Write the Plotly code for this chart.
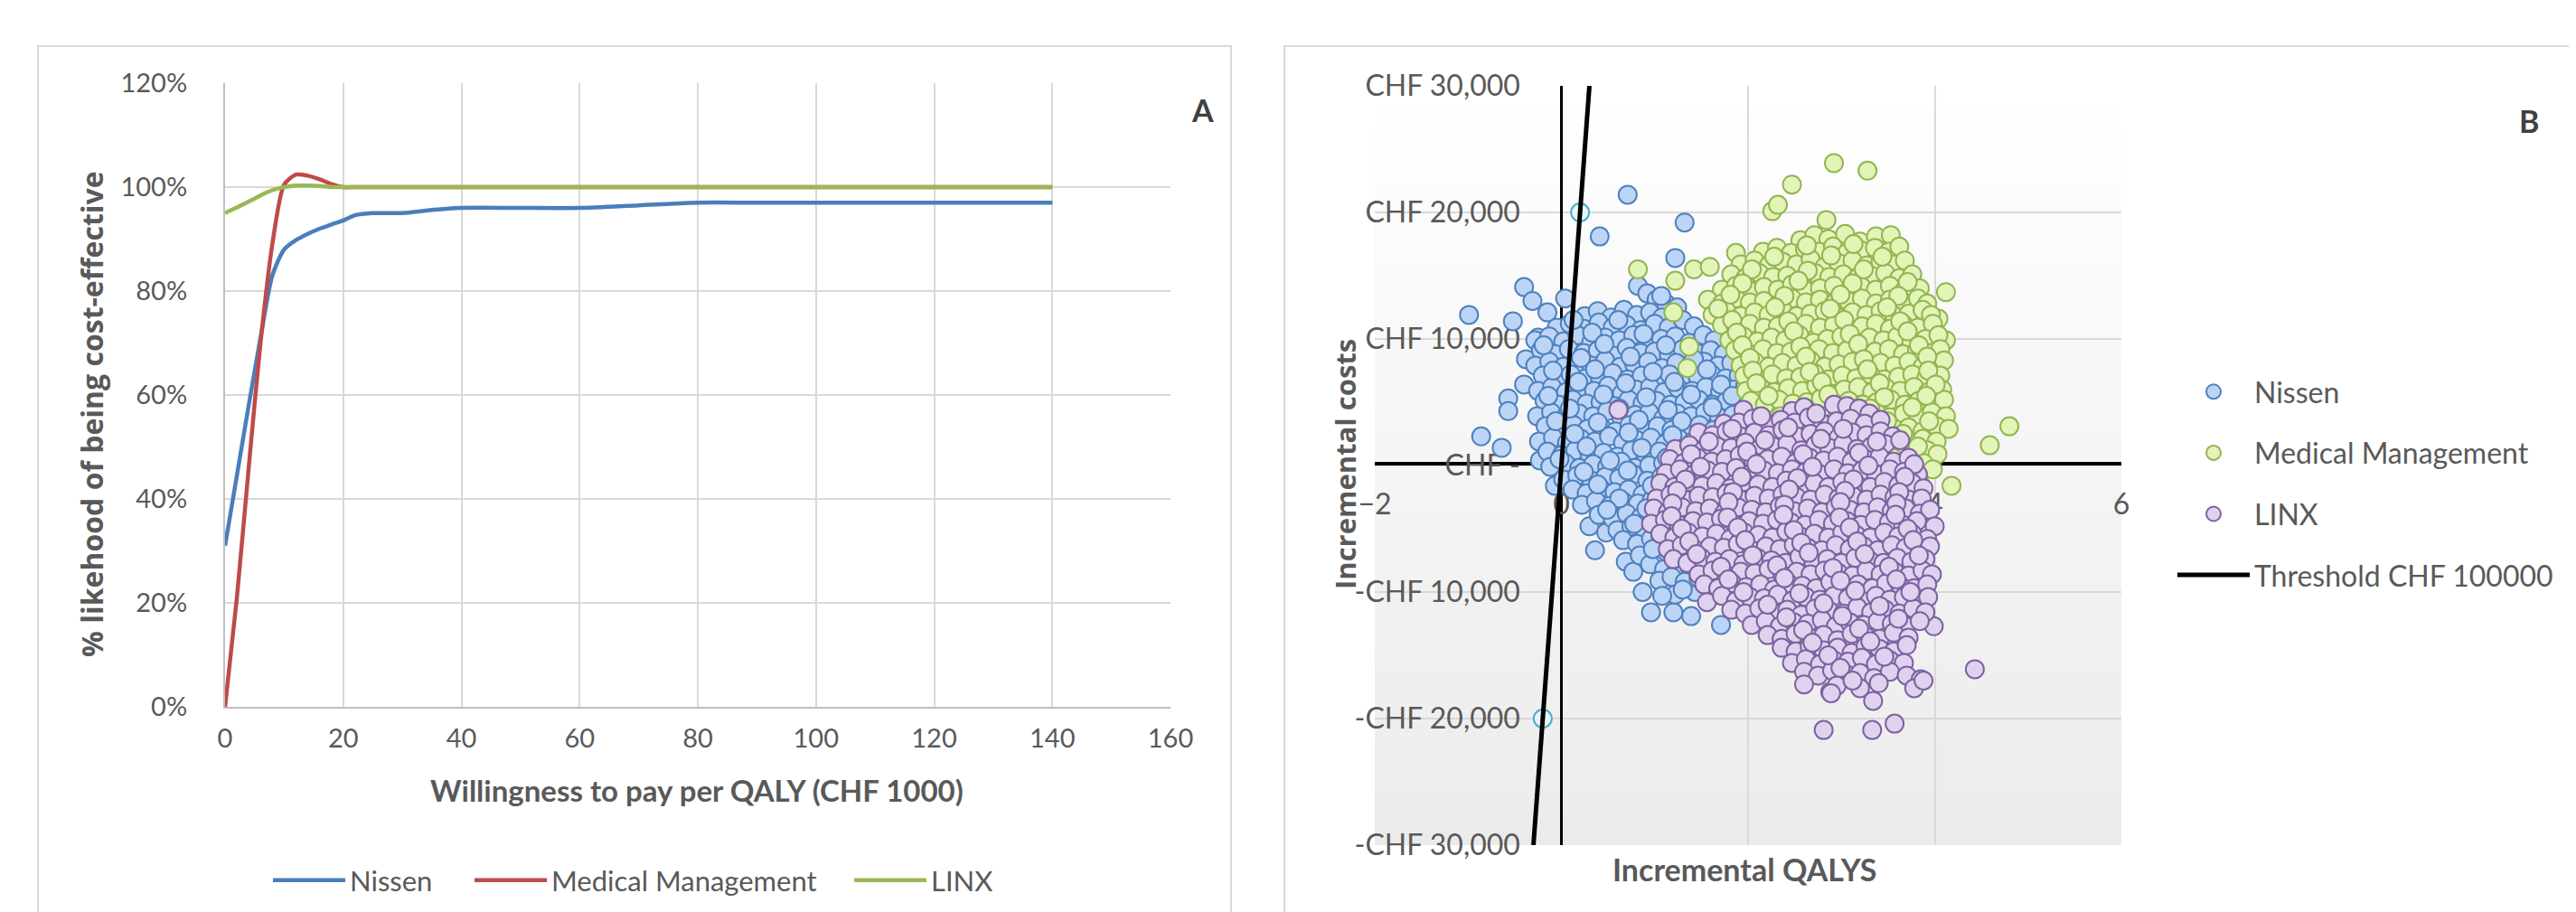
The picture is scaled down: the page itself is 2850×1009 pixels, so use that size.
import plotly.graph_objects as go

W, H = 2850, 1009

# ---------------- Panel A data (CEAC) ----------------
wtp = [0, 2, 4, 6, 8, 10, 12, 14, 16, 18, 20, 22, 25, 30, 35, 40, 50, 60, 70, 80, 90, 100, 110, 120, 130, 140]
nissen_ceac = [31, 44.5, 58, 71, 83, 88, 89.8, 91, 92, 92.8, 93.6, 94.6, 95, 95, 95.6, 96, 96, 96, 96.5, 97, 97, 97, 97, 97, 97, 97]
mm_ceac = [0, 21, 46, 70, 89, 100.5, 102.4, 102.2, 101.5, 100.6, 100, 100, 100, 100, 100, 100, 100, 100, 100, 100, 100, 100, 100, 100, 100, 100]
linx_ceac = [95, 96.1, 97.2, 98.4, 99.4, 100, 100.3, 100.3, 100.2, 100, 100, 100, 100, 100, 100, 100, 100, 100, 100, 100, 100, 100, 100, 100, 100, 100]
a_xticks = [0, 20, 40, 60, 80, 100, 120, 140, 160]
a_yticks = [0, 20, 40, 60, 80, 100, 120]
a_yticklabels = ["0%", "20%", "40%", "60%", "80%", "100%", "120%"]

# ---------------- Panel B data (cost-effectiveness plane) ----------------
nissen_pts = [
    (0.71, 21400), (0.41, 18100), (1.32, 19200), (1.22, 16400), (0.82, 14200),
    (-0.40, 14100), (-0.31, 13000), (-0.15, 12100), (0.04, 13200), (-0.99, 11900), (-0.52, 11400),
    (-0.25, 10100), (-0.38, 8400), (-0.18, 8300), (-0.40, 6400), (-0.57, 5300), (-0.57, 4300),
    (-0.86, 2300), (-0.64, 1400), (-0.21, 3700), (-0.11, 3000), (-0.23, 400), (-0.07, -1600),
    (0.30, -4800), (0.48, -5300), (0.36, -6700), (0.69, -7600), (0.77, -8400), (0.87, -10000),
    (0.96, -11600), (1.20, -11600), (1.39, -11900), (1.22, -10200), (1.43, -10000), (1.71, -12600),
    (0.92, 13600), (1.02, 13100), (1.12, 12800), (1.24, 12500), (1.07, 13400),
    (0.25, 11800), (0.39, 12200), (0.53, 11700), (0.67, 12300), (0.81, 11900), (0.95, 12100), (1.08, 11700),
    (-0.05, 10900), (0.09, 11200), (0.24, 10800), (0.40, 11300), (0.55, 10900), (0.70, 11100), (0.85, 10700),
    (1.00, 11200), (1.15, 10900), (1.30, 11500), (1.42, 11000),
    (-0.28, 9900), (-0.13, 10200), (0.02, 9800), (0.17, 10300), (0.32, 9700), (0.47, 10100), (0.62, 9900),
    (0.77, 10300), (0.92, 9800), (1.07, 10000), (1.22, 10200), (1.37, 9700), (1.52, 10300), (1.64, 9900),
    (-0.22, 9100), (-0.07, 8800), (0.08, 9200), (0.24, 8900), (0.39, 9100), (0.55, 8700), (0.70, 9300),
    (0.85, 8900), (1.00, 9000), (1.15, 8800), (1.30, 9200), (1.45, 8900), (1.60, 9100), (1.74, 8800),
    (-0.28, 7900), (-0.13, 8200), (0.02, 7800), (0.17, 8100), (0.32, 7900), (0.47, 8300), (0.63, 7800),
    (0.78, 8000), (0.93, 8200), (1.08, 7700), (1.23, 8100), (1.38, 7900), (1.53, 8200), (1.68, 7900), (1.82, 8100),
    (-0.20, 7100), (-0.05, 6800), (0.10, 7200), (0.26, 6900), (0.41, 7000), (0.55, 7300), (0.71, 6800),
    (0.86, 7100), (1.01, 6900), (1.16, 7200), (1.31, 6800), (1.46, 7000), (1.61, 7200), (1.76, 6900), (1.90, 7100),
    (-0.25, 5900), (-0.10, 6200), (0.05, 5800), (0.20, 6100), (0.35, 5900), (0.50, 6300), (0.65, 5700), (0.80, 6000),
    (0.95, 6200), (1.10, 5800), (1.25, 6100), (1.40, 5900), (1.55, 6200), (1.70, 5800), (1.85, 6000), (1.97, 6300),
    (-0.18, 5100), (-0.03, 4800), (0.12, 5200), (0.27, 4900), (0.42, 5000), (0.57, 4700), (0.72, 5200), (0.87, 4900),
    (1.02, 5100), (1.17, 4800), (1.32, 5000), (1.47, 5200), (1.62, 4800), (1.77, 5100), (1.92, 4900),
    (-0.26, 3900), (-0.11, 4200), (0.04, 3800), (0.19, 4100), (0.34, 3900), (0.49, 4300), (0.64, 3800), (0.79, 4000),
    (0.94, 4200), (1.09, 3700), (1.24, 4100), (1.39, 3900), (1.54, 4200), (1.69, 3800), (1.84, 4000),
    (-0.17, 3100), (-0.02, 2800), (0.13, 3200), (0.28, 2900), (0.43, 3000), (0.58, 2700), (0.73, 3200),
    (0.88, 2900), (1.03, 3100), (1.18, 2800), (1.33, 3000), (1.48, 3200), (1.63, 2800), (1.78, 3000),
    (-0.24, 1900), (-0.09, 2200), (0.06, 1800), (0.21, 2100), (0.36, 1900), (0.51, 2300), (0.66, 1800),
    (0.81, 2000), (0.96, 2200), (1.11, 1700), (1.26, 2100), (1.41, 1900), (1.56, 2200), (1.70, 1900),
    (-0.15, 1100), (0.00, 800), (0.15, 1200), (0.30, 900), (0.45, 1000), (0.60, 700), (0.75, 1200),
    (0.90, 900), (1.05, 1100), (1.20, 800), (1.35, 1000), (1.50, 1200),
    (-0.12, -100), (0.04, 200), (0.19, -200), (0.34, 100), (0.49, -100), (0.64, 300), (0.79, -200),
    (0.94, 0), (1.09, 200), (1.24, -300), (1.40, 100),
    (0.02, -1100), (0.17, -800), (0.32, -1200), (0.47, -900), (0.62, -1000), (0.77, -700), (0.92, -1200),
    (1.07, -900), (1.22, -1100), (1.37, -800),
    (0.12, -1900), (0.27, -2200), (0.42, -1800), (0.57, -2100), (0.72, -1900), (0.87, -2300), (1.02, -1800),
    (1.17, -2000), (1.32, -2200), (1.46, -1900),
    (0.22, -3100), (0.37, -2800), (0.52, -3200), (0.67, -2900), (0.82, -3000), (0.97, -2700), (1.12, -3200),
    (1.27, -2900), (1.42, -3100),
    (0.40, -3900), (0.55, -4200), (0.70, -3800), (0.85, -4100), (1.00, -3900), (1.15, -4300), (1.30, -3800), (1.44, -4000),
    (0.60, -5100), (0.75, -4800), (0.90, -5200), (1.05, -4900), (1.20, -5000), (1.35, -5200), (1.48, -4800),
    (0.66, -5900), (0.81, -6200), (0.96, -5800), (1.11, -6100), (1.26, -5900), (1.41, -6200),
    (0.84, -7100), (1.12, -6800), (1.26, -7200), (1.40, -6900), (1.53, -7000),
    (0.95, -7800), (1.10, -8200), (1.24, -7900), (1.38, -8100), (1.52, -7900),
    (1.05, -9100), (1.18, -8800), (1.32, -9200), (1.47, -8900),
    (1.08, -10300), (1.30, -9800),
    (0.13, 11500), (0.61, 11500), (0.33, 10500), (0.88, 10400), (-0.19, 9500), (0.46, 9600), (1.12, 9500),
    (0.21, 8500), (0.74, 8600), (1.42, 8400), (-0.09, 7500), (0.36, 7600), (0.98, 7400), (1.56, 7600),
    (0.18, 6600), (0.69, 6500), (1.21, 6600), (1.71, 6400), (-0.14, 5500), (0.45, 5600), (0.91, 5400),
    (1.39, 5600), (1.83, 5500), (0.09, 4500), (0.62, 4500), (1.14, 4400), (1.62, 4600), (-0.06, 3500),
    (0.39, 3400), (0.83, 3600), (1.29, 3500), (0.14, 2500), (0.72, 2600), (1.19, 2400), (0.27, 1500),
    (0.86, 1400), (-0.02, 500), (0.52, 400), (1.13, 600), (0.24, -500), (0.71, -400), (0.39, -1500),
    (0.97, -1600), (0.62, -2600), (0.49, -3500), (0.91, -3400), (0.78, -4600), (1.06, -5500), (0.98, -6600),
]

mm_pts = [
    (2.92, 23900), (3.28, 23300), (2.47, 22200), (2.26, 20100), (2.32, 20600), (2.84, 19400),
    (4.12, 13700), (4.04, 11600), (4.12, 9900), (4.80, 3100), (4.59, 1600),
    (0.82, 15500), (1.22, 14600), (1.42, 15500), (1.59, 15700), (1.20, 12100), (1.37, 9400), (1.35, 7700), (1.87, 16800),
    (3.53, -1300), (3.83, -1200), (4.18, -1600),
    (2.56, 17800), (2.71, 18200), (2.86, 17900), (3.04, 18300), (3.20, 17700), (3.37, 18100), (3.53, 18200),
    (2.16, 16900), (2.31, 17200), (2.46, 16800), (2.61, 17100), (2.76, 16900), (2.91, 17300), (3.06, 16800),
    (3.21, 17000), (3.36, 17200), (3.51, 16900), (3.62, 17300),
    (1.92, 15900), (2.07, 16200), (2.22, 15800), (2.37, 16100), (2.52, 15900), (2.67, 16300), (2.82, 15700),
    (2.97, 16000), (3.12, 16200), (3.27, 15800), (3.42, 16100), (3.57, 15900), (3.68, 16200),
    (1.82, 15100), (1.97, 14800), (2.12, 15200), (2.27, 14900), (2.42, 15000), (2.57, 14700), (2.72, 15200),
    (2.87, 14900), (3.02, 15100), (3.17, 14800), (3.32, 15000), (3.47, 15200), (3.62, 14800), (3.76, 15100),
    (1.72, 13900), (1.87, 14200), (2.02, 13800), (2.17, 14100), (2.32, 13900), (2.47, 14300), (2.62, 13800),
    (2.77, 14000), (2.92, 14200), (3.07, 13700), (3.22, 14100), (3.37, 13900), (3.52, 14200), (3.67, 13800), (3.84, 14000),
    (1.57, 13100), (1.72, 12800), (1.87, 13200), (2.02, 12900), (2.17, 13000), (2.32, 12700), (2.47, 13200),
    (2.62, 12900), (2.77, 13100), (2.92, 12800), (3.07, 13000), (3.22, 13200), (3.37, 12800), (3.52, 13100),
    (3.67, 12900), (3.82, 13200), (3.92, 12800),
    (1.62, 11900), (1.77, 12200), (1.92, 11800), (2.07, 12100), (2.22, 11900), (2.37, 12300), (2.52, 11800),
    (2.67, 12000), (2.82, 12200), (2.97, 11700), (3.12, 12100), (3.27, 11900), (3.42, 12200), (3.57, 11800),
    (3.72, 12000), (3.87, 12300), (3.96, 11900),
    (1.72, 11100), (1.87, 10800), (2.02, 11200), (2.17, 10900), (2.32, 11000), (2.47, 10700), (2.62, 11200),
    (2.77, 10900), (2.92, 11100), (3.07, 10800), (3.22, 11000), (3.37, 11200), (3.52, 10800), (3.67, 11100),
    (3.82, 10900), (3.98, 11200),
    (1.80, 9900), (1.95, 10200), (2.10, 9800), (2.25, 10100), (2.40, 9900), (2.55, 10300), (2.70, 9700),
    (2.85, 10000), (3.00, 10200), (3.15, 9800), (3.30, 10100), (3.45, 9900), (3.60, 10200), (3.75, 9800),
    (3.90, 10000), (4.04, 10300),
    (1.86, 9100), (2.01, 8800), (2.16, 9200), (2.31, 8900), (2.46, 9000), (2.61, 8700), (2.76, 9200),
    (2.91, 8900), (3.06, 9100), (3.21, 8800), (3.36, 9000), (3.51, 9200), (3.66, 8800), (3.81, 9100),
    (3.96, 8900), (4.06, 9200),
    (1.92, 7900), (2.07, 8200), (2.22, 7800), (2.37, 8100), (2.52, 7900), (2.67, 8300), (2.82, 7800),
    (2.97, 8000), (3.12, 8200), (3.27, 7700), (3.42, 8100), (3.57, 7900), (3.72, 8200), (3.87, 7800),
    (4.02, 8000), (4.10, 8300),
    (1.96, 7100), (2.11, 6800), (2.26, 7200), (2.41, 6900), (2.56, 7000), (2.71, 7300), (2.86, 6800),
    (3.01, 7100), (3.16, 6900), (3.31, 7200), (3.46, 6800), (3.61, 7000), (3.76, 7200), (3.91, 6900), (4.06, 7100),
    (1.98, 5900), (2.13, 6200), (2.28, 5800), (2.43, 6100), (2.58, 5900), (2.73, 6300), (2.88, 5700),
    (3.03, 6000), (3.18, 6200), (3.33, 5800), (3.48, 6100), (3.63, 5900), (3.78, 6200), (3.93, 5800), (4.08, 6000),
    (2.03, 5100), (2.18, 4800), (2.33, 5200), (2.48, 4900), (2.63, 5000), (2.78, 5300), (2.93, 4900),
    (3.08, 5100), (3.23, 4800), (3.38, 5000), (3.53, 5200), (3.68, 4800), (3.83, 5100), (3.98, 4900), (4.10, 5200),
    (2.35, 3900), (2.65, 4100), (2.95, 3800), (3.22, 4000), (3.37, 4200), (3.52, 3800), (3.67, 4100),
    (3.82, 3900), (3.97, 4200), (4.12, 3900),
    (3.12, 3100), (3.27, 2800), (3.42, 3200), (3.57, 2900), (3.72, 3000), (3.87, 2700), (4.02, 3100), (4.15, 2900),
    (3.42, 1900), (3.57, 2200), (3.72, 1800), (3.87, 2100), (4.02, 1900),
    (3.62, 1100), (3.77, 800), (3.92, 1200), (4.03, 900),
    (3.72, -100), (3.88, 200), (3.98, -300),
    (2.63, 17400), (3.13, 17500), (2.28, 16500), (2.89, 16600), (3.44, 16500), (2.04, 15500), (2.64, 15400),
    (3.24, 15500), (1.94, 14400), (2.54, 14600), (3.12, 14400), (3.71, 14500), (1.81, 13500), (2.39, 13400),
    (2.99, 13500), (3.61, 13400), (1.68, 12400), (2.29, 12500), (2.88, 12400), (3.49, 12500), (1.83, 11500),
    (2.43, 11400), (3.03, 11500), (3.63, 11400), (1.88, 10500), (2.49, 10600), (3.09, 10400), (3.71, 10600),
    (1.94, 9500), (2.56, 9400), (3.18, 9600), (3.83, 9500), (2.02, 8500), (2.62, 8600), (3.24, 8400),
    (3.92, 8600), (2.05, 7500), (2.66, 7400), (3.28, 7600), (3.93, 7500), (2.09, 6500), (2.79, 6600),
    (3.41, 6500), (4.01, 6400), (2.22, 5500), (2.86, 5600), (3.46, 5400), (3.91, 5500), (3.31, 4500),
    (3.76, 4600), (3.49, 3500), (3.94, 3500), (3.66, 2500), (3.82, 1500), (3.55, 600),
]

linx_pts = [
    (0.61, 4400), (2.81, -20900), (3.33, -20900), (3.57, -20400), (4.43, -16100), (3.99, -12700),
    (1.95, 4400), (2.47, 4300), (2.60, 4600), (2.92, 4800), (3.06, 4700), (3.19, 4500), (3.30, 4100),
    (1.74, 3300), (1.90, 3400), (2.05, 3700), (2.20, 3300), (2.35, 3600), (2.50, 3400), (2.65, 3800),
    (2.80, 3300), (2.95, 3500), (3.10, 3700), (3.25, 3300), (3.42, 3600),
    (1.47, 2600), (1.62, 2400), (1.77, 2700), (1.92, 2300), (2.07, 2600), (2.22, 2400), (2.37, 2800),
    (2.52, 2300), (2.67, 2500), (2.82, 2700), (2.97, 2200), (3.12, 2600), (3.27, 2400), (3.42, 2700), (3.55, 2300),
    (1.22, 1300), (1.37, 1600), (1.52, 1200), (1.67, 1500), (1.82, 1400), (1.97, 1800), (2.12, 1300),
    (2.27, 1500), (2.42, 1700), (2.57, 1200), (2.72, 1600), (2.87, 1400), (3.02, 1700), (3.17, 1300),
    (3.32, 1500), (3.47, 1700), (3.63, 2000),
    (1.16, 500), (1.31, 200), (1.46, 600), (1.61, 300), (1.76, 500), (1.91, 800), (2.06, 300), (2.21, 500),
    (2.36, 700), (2.51, 200), (2.66, 600), (2.81, 400), (2.96, 700), (3.11, 300), (3.26, 500), (3.41, 700),
    (3.56, 300), (3.72, 600),
    (1.12, -600), (1.27, -300), (1.42, -700), (1.57, -400), (1.72, -500), (1.87, -200), (2.02, -700),
    (2.17, -400), (2.32, -600), (2.47, -300), (2.62, -500), (2.77, -700), (2.92, -300), (3.07, -600),
    (3.22, -400), (3.37, -700), (3.52, -300), (3.67, -500), (3.82, -700),
    (1.06, -1400), (1.21, -1700), (1.36, -1300), (1.51, -1600), (1.66, -1400), (1.81, -1800), (1.96, -1300),
    (2.11, -1500), (2.26, -1700), (2.41, -1200), (2.56, -1600), (2.71, -1400), (2.86, -1700), (3.01, -1300),
    (3.16, -1500), (3.31, -1700), (3.46, -1300), (3.61, -1600), (3.76, -1400), (3.88, -1800),
    (1.02, -2600), (1.17, -2300), (1.32, -2700), (1.47, -2400), (1.62, -2500), (1.77, -2200), (1.92, -2700),
    (2.07, -2400), (2.22, -2600), (2.37, -2300), (2.52, -2500), (2.67, -2700), (2.82, -2300), (2.97, -2600),
    (3.12, -2400), (3.27, -2700), (3.42, -2300), (3.57, -2500), (3.72, -2700), (3.86, -2600),
    (0.99, -3400), (1.14, -3700), (1.29, -3300), (1.44, -3600), (1.59, -3400), (1.74, -3800), (1.89, -3300),
    (2.04, -3500), (2.19, -3700), (2.34, -3200), (2.49, -3600), (2.64, -3400), (2.79, -3700), (2.94, -3300),
    (3.09, -3500), (3.24, -3700), (3.39, -3300), (3.54, -3600), (3.69, -3400), (3.84, -3800), (3.95, -3500),
    (0.96, -4600), (1.11, -4300), (1.26, -4700), (1.41, -4400), (1.56, -4500), (1.71, -4200), (1.86, -4700),
    (2.01, -4400), (2.16, -4600), (2.31, -4300), (2.46, -4500), (2.61, -4700), (2.76, -4300), (2.91, -4600),
    (3.06, -4400), (3.21, -4700), (3.36, -4300), (3.51, -4500), (3.66, -4700), (3.81, -4400), (4.00, -4800),
    (1.06, -5400), (1.21, -5700), (1.36, -5300), (1.51, -5600), (1.66, -5400), (1.81, -5800), (1.96, -5300),
    (2.11, -5500), (2.26, -5700), (2.41, -5200), (2.56, -5600), (2.71, -5400), (2.86, -5700), (3.01, -5300),
    (3.16, -5500), (3.31, -5700), (3.46, -5300), (3.61, -5600), (3.76, -5400), (3.92, -5800),
    (1.14, -6600), (1.29, -6300), (1.44, -6700), (1.59, -6400), (1.74, -6500), (1.89, -6200), (2.04, -6700),
    (2.19, -6400), (2.34, -6600), (2.49, -6300), (2.64, -6500), (2.79, -6700), (2.94, -6300), (3.09, -6600),
    (3.24, -6400), (3.39, -6700), (3.54, -6300), (3.69, -6500), (3.84, -6700), (3.95, -6400),
    (1.20, -7400), (1.35, -7700), (1.50, -7300), (1.65, -7600), (1.80, -7400), (1.95, -7800), (2.10, -7300),
    (2.25, -7500), (2.40, -7700), (2.55, -7200), (2.70, -7600), (2.85, -7400), (3.00, -7700), (3.15, -7300),
    (3.30, -7500), (3.45, -7700), (3.60, -7300), (3.75, -7600), (3.90, -7400),
    (1.47, -8600), (1.62, -8300), (1.77, -8700), (1.92, -8400), (2.07, -8500), (2.22, -8200), (2.37, -8700),
    (2.52, -8400), (2.67, -8600), (2.82, -8300), (2.97, -8500), (3.12, -8700), (3.27, -8300), (3.42, -8600),
    (3.57, -8400), (3.72, -8700), (3.87, -8300), (3.97, -8600),
    (1.53, -9400), (1.68, -9700), (1.83, -9300), (1.98, -9600), (2.13, -9400), (2.28, -9800), (2.43, -9300),
    (2.58, -9500), (2.73, -9700), (2.88, -9200), (3.03, -9600), (3.18, -9400), (3.33, -9700), (3.48, -9300),
    (3.63, -9500), (3.78, -9700), (3.92, -9400),
    (1.56, -10800), (1.72, -10300), (1.87, -10700), (2.02, -10400), (2.17, -10500), (2.32, -10200), (2.47, -10700),
    (2.62, -10400), (2.77, -10600), (2.92, -10300), (3.07, -10500), (3.22, -10700), (3.37, -10300), (3.52, -10600),
    (3.67, -10400), (3.82, -10700), (3.93, -10400),
    (1.82, -11400), (1.97, -11700), (2.12, -11300), (2.27, -11600), (2.42, -11400), (2.57, -11800), (2.72, -11300),
    (2.87, -11500), (3.02, -11700), (3.17, -11200), (3.32, -11600), (3.47, -11400), (3.62, -11700), (3.77, -11300), (3.90, -11600),
    (2.04, -12600), (2.19, -12300), (2.34, -12700), (2.49, -12400), (2.64, -12500), (2.79, -12200), (2.94, -12700),
    (3.09, -12400), (3.24, -12600), (3.39, -12300), (3.54, -12500), (3.69, -12700), (3.84, -12300),
    (2.21, -13400), (2.36, -13700), (2.51, -13300), (2.66, -13600), (2.81, -13400), (2.96, -13800), (3.11, -13300),
    (3.26, -13500), (3.41, -13700), (3.56, -13200), (3.72, -13600),
    (2.36, -14400), (2.51, -14700), (2.66, -14300), (2.81, -14600), (2.96, -14400), (3.11, -14800), (3.26, -14300),
    (3.41, -14500), (3.56, -14700), (3.70, -14200),
    (2.47, -15600), (2.62, -15300), (2.77, -15700), (2.92, -15400), (3.07, -15500), (3.22, -15200), (3.37, -15700),
    (3.52, -15400), (3.67, -15600),
    (2.60, -16300), (2.75, -16600), (2.90, -16200), (3.05, -16500), (3.20, -16400), (3.35, -16800), (3.52, -16300),
    (3.70, -16600), (3.85, -16900),
    (2.60, -17300), (2.88, -17900), (2.95, -17400), (3.20, -17600), (3.40, -17200), (3.78, -17600), (3.88, -17000),
    (2.89, -18000), (3.34, -18600),
    (2.14, 3900), (2.73, 4100), (1.83, 2900), (2.43, 3000), (3.02, 2900), (1.58, 1900), (2.18, 2000), (2.78, 2100),
    (3.38, 1900), (1.39, 900), (1.99, 1100), (2.59, 900), (3.19, 1000), (1.49, -100), (2.09, 100), (2.69, -100),
    (3.29, 0), (3.78, 100), (1.33, -1100), (1.93, -900), (2.53, -1000), (3.13, -1100), (3.68, -900),
    (1.24, -2000), (1.84, -2100), (2.44, -1900), (3.04, -2000), (3.62, -2100), (1.19, -3000), (1.79, -2900),
    (2.39, -3100), (2.99, -2900), (3.59, -3000), (1.18, -4000), (1.78, -4100), (2.38, -3900), (2.98, -4100),
    (3.58, -3900), (1.29, -5000), (1.89, -4900), (2.49, -5100), (3.09, -4900), (3.71, -5000), (1.37, -6000),
    (1.97, -5900), (2.57, -6100), (3.17, -6000), (3.77, -5900), (1.45, -7000), (2.05, -7100), (2.65, -6900),
    (3.25, -7000), (3.83, -7100), (1.71, -8000), (2.31, -7900), (2.91, -8100), (3.51, -8000), (1.79, -9000),
    (2.39, -8900), (2.99, -9100), (3.59, -9000), (1.95, -10000), (2.55, -10100), (3.15, -9900), (3.74, -10000),
    (2.21, -11000), (2.81, -10900), (3.41, -11100), (2.41, -12000), (3.01, -11900), (3.61, -12100),
    (2.59, -13000), (3.19, -12900), (2.69, -14000), (3.31, -13900), (2.86, -15000), (3.46, -15100),
    (2.99, -16000), (3.12, -17000),
]

threshold_qaly = [-0.3, 0.3]
threshold_cost = [-30000, 30000]
threshold_marker_qaly = [-0.2, 0.0, 0.2]
threshold_marker_cost = [-20000, 0, 20000]

b_xticks = [-2, 0, 2, 4, 6]
b_yticks = [-30000, -20000, -10000, 0, 10000, 20000, 30000]
b_yticklabels = ["-CHF 30,000", "-CHF 20,000", "-CHF 10,000", "CHF -", "CHF 10,000", "CHF 20,000", "CHF 30,000"]

# ---------------- styling ----------------
FONT = "Lato, 'Open Sans', sans-serif"
TITLE_FONT = "'Open Sans', Lato, sans-serif"
GRAY = "#595959"
GRID = "#d9d9d9"


def px_x(p):
    return p / W


def px_y(p):
    return 1 - p / H


fig = go.Figure()

# Panel A lines, each with its own legend box so the spacing follows the reference
a_series = [("Nissen", nissen_ceac, "#4a7ebb", "legend"),
            ("Medical Management", mm_ceac, "#be4b48", "legend3"),
            ("LINX", linx_ceac, "#98b954", "legend4")]
for name, vals, col, leg in a_series:
    fig.add_trace(go.Scatter(x=wtp, y=vals, name=name, mode="lines",
                             line=dict(color=col, width=4.5, shape="spline", smoothing=0.7),
                             xaxis="x", yaxis="y", legend=leg))

# Panel B scatter
fig.add_trace(go.Scatter(x=threshold_marker_qaly, y=threshold_marker_cost, mode="markers",
                         marker=dict(size=20, color="#e6f6fa", line=dict(color="#4bacc6", width=2)),
                         showlegend=False, xaxis="x2", yaxis="y2", hoverinfo="skip"))

for name, pts, fill, edge in [("Nissen", nissen_pts, "#bcd5f7", "#4f81bd"),
                              ("Medical Management", mm_pts, "#e2f4b6", "#93b553"),
                              ("LINX", linx_pts, "#dfd2ee", "#7d62a0")]:
    fig.add_trace(go.Scatter(x=[p[0] for p in pts], y=[p[1] for p in pts], name=name, mode="markers",
                             marker=dict(size=20, color=fill, line=dict(color=edge, width=2)),
                             xaxis="x2", yaxis="y2", legend="legend2", legendgroup=name))

fig.add_trace(go.Scatter(x=threshold_qaly, y=threshold_cost, name="Threshold CHF 100000", mode="lines",
                         line=dict(color="black", width=5), xaxis="x2", yaxis="y2",
                         legend="legend2", legendgroup="thr"))

# ---------------- layout ----------------
shapes = []
shapes.append(dict(type="rect", xref="paper", yref="paper", x0=px_x(34), x1=px_x(1354), y0=-0.05, y1=px_y(43),
                   line=dict(color="#d9d9d9", width=2), fillcolor="rgba(0,0,0,0)", layer="below"))
shapes.append(dict(type="rect", xref="paper", yref="paper", x0=px_x(1413), x1=1.05, y0=-0.05, y1=px_y(43),
                   line=dict(color="#d9d9d9", width=2), fillcolor="rgba(0,0,0,0)", layer="below"))
nb = 30
for i in range(nb):
    g = int(round(255 - 20 * (i + 0.5) / nb))
    shapes.append(dict(type="rect", xref="x2 domain", yref="y2 domain", x0=0, x1=1,
                       y0=1 - (i + 1) / nb, y1=1 - i / nb + 0.002,
                       line=dict(width=0), fillcolor=f"rgb({g},{g},{g})", layer="below"))

annotations = [
    dict(text="<b>Willingness to pay per QALY (CHF 1000)</b>", x=px_x(763), y=px_y(866), xref="paper", yref="paper",
         showarrow=False, font=dict(family=FONT, size=33, color=GRAY), xanchor="center", yanchor="middle"),
    dict(text="<b>% likehood of being cost-effective</b>", x=px_x(93), y=px_y(450), xref="paper", yref="paper",
         showarrow=False, textangle=-90, font=dict(family=TITLE_FONT, size=32, color=GRAY),
         xanchor="center", yanchor="middle"),
    dict(text="<b>Incremental costs</b>", x=px_x(1480), y=px_y(505), xref="paper", yref="paper",
         showarrow=False, textangle=-90, font=dict(family=TITLE_FONT, size=31, color=GRAY),
         xanchor="center", yanchor="middle"),
    dict(text="<b>Incremental QALYS</b>", x=px_x(1922), y=px_y(953), xref="paper", yref="paper",
         showarrow=False, font=dict(family=FONT, size=34, color=GRAY), xanchor="center", yanchor="middle"),
    dict(text="<b>A</b>", x=px_x(1322), y=px_y(113), xref="paper", yref="paper",
         showarrow=False, font=dict(family=FONT, size=34, color="#404040"), xanchor="center", yanchor="middle"),
    dict(text="<b>B</b>", x=px_x(2790), y=px_y(125), xref="paper", yref="paper",
         showarrow=False, font=dict(family=FONT, size=34, color="#404040"), xanchor="center", yanchor="middle"),
]

legA = dict(orientation="h", xanchor="left", y=px_y(966), yanchor="middle",
            font=dict(family=FONT, size=31, color=GRAY), bgcolor="rgba(0,0,0,0)", itemwidth=80)

fig.update_layout(
    width=W, height=H,
    margin=dict(l=0, r=0, t=0, b=0, autoexpand=False),
    paper_bgcolor="white", plot_bgcolor="white",
    font=dict(family=FONT, color=GRAY, size=28),
    shapes=shapes, annotations=annotations,
    xaxis=dict(domain=[px_x(241), px_x(1287)], range=[0, 160], tickvals=a_xticks,
               showgrid=True, gridcolor=GRID, gridwidth=2, zeroline=False, automargin=False,
               showline=True, linecolor="#bfbfbf", linewidth=2, mirror=False,
               ticks="outside", ticklen=8, tickcolor="rgba(0,0,0,0)",
               tickfont=dict(family=FONT, size=29, color=GRAY), anchor="y"),
    yaxis=dict(domain=[px_y(774), px_y(84)], range=[0, 120], tickvals=a_yticks, ticktext=a_yticklabels,
               showgrid=True, gridcolor=GRID, gridwidth=2, zeroline=False, automargin=False,
               showline=True, linecolor="#bfbfbf", linewidth=2,
               ticks="outside", ticklen=34, tickcolor="rgba(0,0,0,0)",
               tickfont=dict(family=FONT, size=29, color=GRAY), anchor="x"),
    xaxis2=dict(domain=[px_x(1513), px_x(2339)], range=[-2, 6], tickvals=b_xticks,
                showgrid=True, gridcolor=GRID, gridwidth=2, zeroline=False, automargin=False,
                showline=True, linecolor="black", linewidth=3.5,
                anchor="free", position=px_y(505), side="bottom", layer="below traces",
                ticks="outside", ticklen=16, tickcolor="rgba(0,0,0,0)",
                tickfont=dict(family=FONT, size=32, color=GRAY)),
    yaxis2=dict(domain=[px_y(927), px_y(87)], range=[-30000, 30000], tickvals=b_yticks, ticktext=b_yticklabels,
                showgrid=True, gridcolor=GRID, gridwidth=2, zeroline=False, automargin=False,
                showline=True, linecolor="black", linewidth=2.5,
                anchor="free", position=px_x(1719), side="left", layer="below traces",
                ticks="outside", ticklen=38, tickcolor="rgba(0,0,0,0)",
                tickfont=dict(family=FONT, size=32, color=GRAY)),
    legend=dict(legA, x=px_x(289)),
    legend3=dict(legA, x=px_x(512)),
    legend4=dict(legA, x=px_x(932)),
    legend2=dict(orientation="v", x=px_x(2396), xanchor="left", y=px_y(398), yanchor="top",
                 font=dict(family=FONT, size=32, color=GRAY), bgcolor="rgba(0,0,0,0)",
                 itemwidth=80, tracegroupgap=23, traceorder="grouped"),
)

fig.write_html("out.html")
